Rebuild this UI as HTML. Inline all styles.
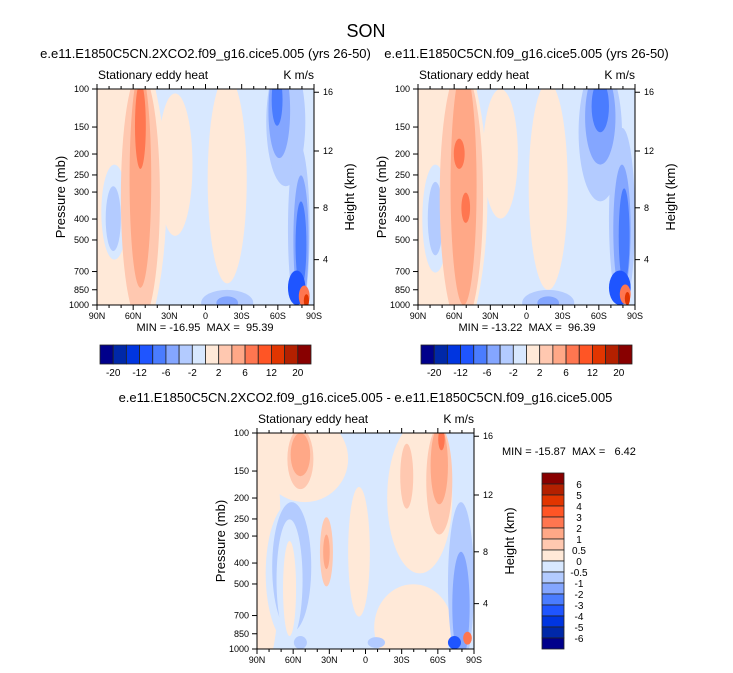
<!DOCTYPE html>
<html><head><meta charset="utf-8">
<style>
html,body{margin:0;padding:0;background:#fff;}
svg{display:block;font-family:"Liberation Sans",Arial,sans-serif;}
.mm{white-space:pre;}
</style></head>
<body>
<svg id="fig" width="733" height="673" viewBox="0 0 733 673" xmlns="http://www.w3.org/2000/svg">
<text x="366" y="37" font-size="18" text-anchor="middle">SON</text>
</svg>
<script>
const NS='http://www.w3.org/2000/svg';
const svg=document.getElementById('fig');
const colors=['#00008b','#0028a8','#0035e0','#1f55ff','#4a7cff','#84a6ff','#b3cbff','#d8e8ff','#ffe9d8','#ffc8b0','#ffa887','#ff7650','#ff5525','#e13500','#b32000','#880000'];
const pLevels=[100,150,200,250,300,400,500,700,850,1000];
const hLevels=[16,12,8,4];
const hFrac=[0.015,0.287,0.55,0.79];
const latLabels=['90N','60N','30N','0','30S','60S','90S'];
const cbLabels1=['-20','-12','-6','-2','2','6','12','20'];
const cbLabels3=['6','5','4','3','2','1','0.5','0','-0.5','-1','-2','-3','-4','-5','-6'];
// contour blobs: [cx, cy, rx, ry, colorIndex] in fractional plot coords
const field1=[
 [0.12,0.5,0.2,0.75,8],
 [0.36,0.35,0.08,0.33,8],
 [0.6,0.42,0.09,0.48,8],
 [0.08,0.57,0.06,0.22,7],
 [0.075,0.6,0.035,0.15,6],
 [0.2,0.5,0.09,0.58,9],
 [0.2,0.42,0.05,0.5,10],
 [0.2,0.17,0.025,0.2,11],
 [0.87,0.15,0.09,0.3,6],
 [0.84,0.1,0.05,0.22,5],
 [0.83,0.05,0.025,0.12,4],
 [0.93,0.65,0.05,0.4,6],
 [0.94,0.7,0.035,0.3,5],
 [0.94,0.72,0.025,0.2,4],
 [0.92,0.92,0.04,0.08,3],
 [0.955,0.96,0.025,0.05,11],
 [0.965,0.98,0.012,0.03,13],
 [0.6,0.99,0.12,0.06,6],
 [0.6,0.99,0.05,0.03,5]
];
const field2=[
 [0.12,0.5,0.2,0.75,8],
 [0.38,0.3,0.08,0.3,8],
 [0.6,0.45,0.09,0.48,8],
 [0.08,0.6,0.06,0.25,7],
 [0.08,0.6,0.035,0.17,6],
 [0.2,0.5,0.1,0.6,9],
 [0.21,0.45,0.06,0.55,10],
 [0.19,0.3,0.025,0.07,11],
 [0.22,0.55,0.02,0.07,11],
 [0.84,0.2,0.1,0.32,6],
 [0.84,0.13,0.07,0.22,5],
 [0.84,0.08,0.04,0.12,4],
 [0.94,0.6,0.06,0.42,6],
 [0.94,0.65,0.04,0.3,5],
 [0.95,0.68,0.025,0.22,4],
 [0.93,0.92,0.05,0.08,3],
 [0.955,0.95,0.025,0.045,11],
 [0.965,0.97,0.012,0.03,13],
 [0.6,0.99,0.12,0.06,6],
 [0.6,0.99,0.05,0.03,5]
];
const field3=[
 [0.03,0.5,0.08,0.6,8],
 [0.22,0.12,0.2,0.2,8],
 [0.75,0.3,0.15,0.35,8],
 [0.72,0.9,0.18,0.2,8],
 [0.47,0.55,0.05,0.3,8],
 [0.16,0.65,0.12,0.33,7],
 [0.16,0.62,0.09,0.3,6],
 [0.15,0.68,0.06,0.28,7],
 [0.15,0.72,0.03,0.22,8],
 [0.2,0.12,0.06,0.14,9],
 [0.2,0.1,0.045,0.1,10],
 [0.32,0.55,0.03,0.16,9],
 [0.32,0.55,0.015,0.08,10],
 [0.69,0.2,0.03,0.15,9],
 [0.84,0.22,0.06,0.25,9],
 [0.84,0.15,0.04,0.18,10],
 [0.85,0.03,0.015,0.05,11],
 [0.94,0.7,0.06,0.38,6],
 [0.94,0.8,0.04,0.25,5],
 [0.91,0.97,0.03,0.03,3],
 [0.97,0.95,0.02,0.03,11],
 [0.55,0.97,0.04,0.025,6],
 [0.2,0.97,0.03,0.03,6]
];
function el(tag,attrs,parent){const e=document.createElementNS(NS,tag);for(const k in attrs)e.setAttribute(k,attrs[k]);(parent||svg).appendChild(e);return e;}
function txt(x,y,s,size,anchor,parent){const t=el('text',{x:x,y:y,'font-size':size,'text-anchor':anchor||'start'},parent);t.textContent=s;return t;}
function panel(id,x0,y0,w,h,field,title,minmax,mmx,mmy,mmAnchor){
 const g=el('g',{});
 
 
 const cid='clip-'+id;
 const cp=el('clipPath',{id:cid},g);el('rect',{x:x0,y:y0,width:w,height:h},cp);
 const fg=el('g',{'clip-path':'url(#'+cid+')'},g);
 
 
 el('rect',{x:x0,y:y0,width:w,height:h,fill:colors[7]},fg);
 for(const f of field){
  const e=el('ellipse',{cx:x0+f[0]*w,cy:y0+f[1]*h,rx:f[2]*w,ry:f[3]*h,fill:colors[f[4]]},fg);
  
  
 }
 el('rect',{x:x0,y:y0,width:w,height:h,fill:'none',stroke:'#000','stroke-width':1},g);
 for(let i=0;i<=18;i++){const x=x0+i*w/18;const L=i%3==0?5:3;
  el('line',{x1:x,y1:y0+h,x2:x,y2:y0+h+L,stroke:'#000'},g);
  el('line',{x1:x,y1:y0,x2:x,y2:y0-L,stroke:'#000'},g);}
 latLabels.forEach((s,i)=>{const t=txt(x0+i*w/6,y0+h+14,s,9,'middle',g);});
 pLevels.forEach(p=>{const y=y0+Math.log10(p/100)*h;el('line',{x1:x0-5,y1:y,x2:x0,y2:y,stroke:'#000'},g);
  const t=txt(x0-8,y+3,String(p),9,'end',g);});
 hLevels.forEach((v,i)=>{const y=y0+hFrac[i]*h;el('line',{x1:x0+w,y1:y,x2:x0+w+5,y2:y,stroke:'#000'},g);
  const t=txt(x0+w+9,y+3,String(v),9,'start',g);});
 let t=txt(x0-32,y0+h/2,'Pressure (mb)',13,'middle',g);t.setAttribute('transform','rotate(-90 '+(x0-32)+' '+(y0+h/2)+')');
 
 t=txt(x0+w+40,y0+h/2,'Height (km)',13,'middle',g);t.setAttribute('transform','rotate(-90 '+(x0+w+40)+' '+(y0+h/2)+')');
 
 t=txt(x0+1,y0-10,'Stationary eddy heat',12,'start',g);
 t=txt(x0+w,y0-10,'K m/s',12,'end',g);
 t=txt(x0+w/2,y0-31,title,13,'middle',g);
 t=txt(mmx,mmy,minmax,11,mmAnchor,g);
 t.setAttribute('class','mm');
}
panel('panel-2xco2',97,89,217,216,field1,'e.e11.E1850C5CN.2XCO2.f09_g16.cice5.005 (yrs 26-50)','MIN = -16.95  MAX =  95.39',205,331,'middle');
panel('panel-control',418,89,217,216,field2,'e.e11.E1850C5CN.f09_g16.cice5.005 (yrs 26-50)','MIN = -13.22  MAX =  96.39',527,331,'middle');
panel('panel-difference',257,433,217,216,field3,'e.e11.E1850C5CN.2XCO2.f09_g16.cice5.005 - e.e11.E1850C5CN.f09_g16.cice5.005','MIN = -15.87  MAX =   6.42',502,455,'start');
function hbar(name,x0,y0,w,h){
 const g=el('g',{});
 
 
 const bw=w/16;
 colors.forEach((c,i)=>{const r=el('rect',{x:x0+i*bw,y:y0,width:bw,height:h,fill:c,stroke:'#222','stroke-width':0.8},g);
  });
 cbLabels1.forEach((s,i)=>{const t=txt(x0+(2*i+1)*bw,y0+h+12,s,10,'middle',g);});
}
hbar('colorbar-2xco2',100,345,211,19);
hbar('colorbar-control',421,345,211,19);
(function(){
 const g=el('g',{});
 
 
 const x0=542,y0=473,w=22,h=176,bh=h/16;
 colors.slice().reverse().forEach((c,i)=>{const r=el('rect',{x:x0,y:y0+i*bh,width:w,height:bh,fill:c,stroke:'#222','stroke-width':0.8},g);
  });
 cbLabels3.forEach((s,i)=>{const t=txt(x0+w+15,y0+(i+1)*bh+4,s,10,'middle',g);});
})();
</script>
</body></html>
